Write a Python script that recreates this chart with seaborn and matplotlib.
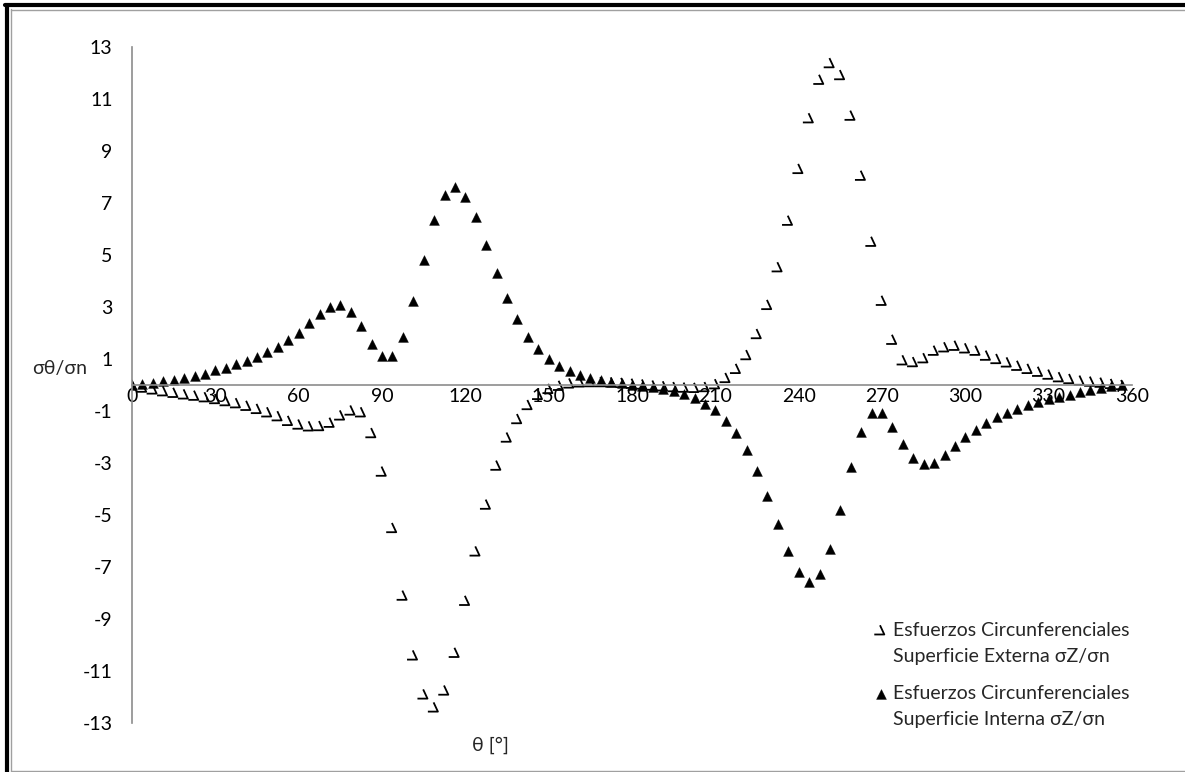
import numpy as np
import pandas as pd
import matplotlib
matplotlib.use("Agg")
import matplotlib.pyplot as plt
from matplotlib.path import Path
from matplotlib.lines import Line2D
import seaborn as sns

# ---- data ----
theta = [0.0, 3.75, 7.5, 11.25, 15.0, 18.75, 22.5, 26.25, 30.0, 33.75, 37.5, 41.25,
         45.0, 48.75, 52.5, 56.25, 60.0, 63.75, 67.5, 71.25, 75.0, 78.75, 82.5, 86.25,
         90.0, 93.75, 97.5, 101.25, 105.0, 108.75, 112.5, 116.25, 120.0, 123.75, 127.5, 131.25,
         135.0, 138.75, 142.5, 146.25, 150.0, 153.75, 157.5, 161.25, 165.0, 168.75, 172.5, 176.25,
         180.0, 183.75, 187.5, 191.25, 195.0, 198.75, 202.5, 206.25, 210.0, 213.75, 217.5, 221.25,
         225.0, 228.75, 232.5, 236.25, 240.0, 243.75, 247.5, 251.25, 255.0, 258.75, 262.5, 266.25,
         270.0, 273.75, 277.5, 281.25, 285.0, 288.75, 292.5, 296.25, 300.0, 303.75, 307.5, 311.25,
         315.0, 318.75, 322.5, 326.25, 330.0, 333.75, 337.5, 341.25, 345.0, 348.75, 352.5, 356.25]

externa = [0.0, -0.1, -0.17, -0.24, -0.3, -0.36, -0.41, -0.47, -0.54, -0.62, -0.7, -0.8,
           -0.92, -1.05, -1.2, -1.38, -1.52, -1.59, -1.58, -1.45, -1.17, -0.98, -1.05, -1.85,
           -3.33, -5.5, -8.1, -10.4, -11.9, -12.4, -11.75, -10.3, -8.3, -6.4, -4.6, -3.1,
           -2.02, -1.31, -0.77, -0.38, -0.15, -0.03, 0.06, 0.1, 0.11, 0.11, 0.1, 0.08,
           0.05, 0.02, -0.02, -0.05, -0.08, -0.1, -0.11, -0.08, 0.03, 0.27, 0.62, 1.15,
           1.96, 3.08, 4.53, 6.32, 8.31, 10.26, 11.74, 12.38, 11.92, 10.36, 8.05, 5.51,
           3.24, 1.74, 0.95, 0.88, 1.03, 1.32, 1.45, 1.51, 1.41, 1.32, 1.13, 1.0,
           0.87, 0.74, 0.62, 0.51, 0.4, 0.3, 0.23, 0.17, 0.13, 0.09, 0.04, 0.0]

interna = [0.0, 0.04, 0.08, 0.14, 0.2, 0.27, 0.36, 0.44, 0.56, 0.65, 0.8, 0.94,
           1.09, 1.27, 1.47, 1.72, 2.01, 2.37, 2.73, 3.0, 3.06, 2.81, 2.26, 1.59,
           1.11, 1.13, 1.85, 3.22, 4.82, 6.35, 7.31, 7.63, 7.24, 6.45, 5.38, 4.32,
           3.33, 2.53, 1.86, 1.38, 1.01, 0.74, 0.54, 0.38, 0.27, 0.18, 0.13, 0.06,
           0.01, -0.05, -0.09, -0.14, -0.22, -0.35, -0.5, -0.72, -0.97, -1.38, -1.85, -2.49,
           -3.3, -4.28, -5.35, -6.4, -7.2, -7.58, -7.26, -6.31, -4.8, -3.17, -1.81, -1.08,
           -1.08, -1.6, -2.27, -2.81, -3.03, -3.0, -2.71, -2.36, -2.0, -1.72, -1.46, -1.24,
           -1.08, -0.91, -0.78, -0.67, -0.54, -0.45, -0.37, -0.27, -0.18, -0.12, -0.05, 0.0]

x_ticks = [0, 30, 60, 90, 120, 150, 180, 210, 240, 270, 300, 330, 360]
y_ticks = [-13, -11, -9, -7, -5, -3, -1, 1, 3, 5, 7, 9, 11, 13]

label_ext = "Esfuerzos Circunferenciales\nSuperficie Externa σZ/σn"
label_int = "Esfuerzos Circunferenciales\nSuperficie Interna σZ/σn"

# ---- style ----
sns.set_style("white")
plt.rcParams["font.family"] = ["Lato", "DejaVu Sans"]
plt.rcParams["font.size"] = 14
plt.rcParams["axes.unicode_minus"] = False

FS = 14
W, H = 1185, 772
fig = plt.figure(figsize=(W / 100, H / 100), dpi=100)
ax = fig.add_axes([132 / W, 1 - 723 / H, 1000 / W, 676 / H])

df = pd.DataFrame({"theta": theta, "ext": externa, "int": interna})

# custom open marker resembling the reference glyph
ext_marker = Path([(-0.05, 0.5), (0.38, -0.42), (-0.62, -0.42)],
                  [Path.MOVETO, Path.LINETO, Path.LINETO])

sns.scatterplot(data=df, x="theta", y="ext", marker=ext_marker, s=80,
                color="black", linewidth=1.3, ax=ax, label=label_ext)
coll = ax.collections[-1]
coll.set_facecolor("none")
coll.set_edgecolor("black")
coll.set_linewidth(1.3)

sns.scatterplot(data=df, x="theta", y="int", marker="^", s=50,
                color="black", edgecolor="black", linewidth=0.3, ax=ax, label=label_int)

ax.set_xlim(0, 360)
ax.set_ylim(-13, 13)
ax.set_xticks(x_ticks)
ax.set_yticks(y_ticks)
ax.set_xlabel("")
ax.set_ylabel("")

for s in ["top", "right"]:
    ax.spines[s].set_visible(False)
ax.spines["bottom"].set_position(("data", 0))
for s in ["left", "bottom"]:
    ax.spines[s].set_color("#8c8c8c")
    ax.spines[s].set_linewidth(1.2)
ax.tick_params(axis="both", length=0, labelsize=FS, colors="black")
ax.tick_params(axis="x", pad=2)
ax.tick_params(axis="y", pad=14)
ax.grid(False)

fig.text(60 / W, 1 - 369 / H, "σθ/σn", ha="center", va="center", fontsize=FS)
fig.text(490 / W, 1 - 745 / H, "θ [°]", ha="center", va="center", fontsize=FS)

leg = ax.legend(loc="upper left", bbox_to_anchor=(863 / W, 1 - 614 / H),
                bbox_transform=fig.transFigure, frameon=False,
                handletextpad=0.15, labelspacing=1.05, handlelength=1.0,
                borderaxespad=0, fontsize=FS)
for t in leg.get_texts():
    t.set_linespacing(1.65)
# align legend markers with the first text line, as in the reference
for col in leg._legend_handle_box.get_children():
    for item in col.get_children():
        item.align = "top"

# chart border (as in reference)
def fline(xs, ys, **kw):
    fig.add_artist(Line2D([x / W for x in xs], [1 - y / H for y in ys],
                          transform=fig.transFigure, **kw))

fline([6.5, 6.5], [5, H], color="black", linewidth=3.0)
fline([5, W], [5, 5], color="black", linewidth=3.0)
fline([10.5, 10.5], [9, 770.5], color="#a0a0a0", linewidth=1.0)
fline([10.5, W], [9.5, 9.5], color="#a0a0a0", linewidth=1.0)
fline([10.5, W], [770.5, 770.5], color="#a0a0a0", linewidth=1.0)

fig.savefig("out.png", dpi=100)
